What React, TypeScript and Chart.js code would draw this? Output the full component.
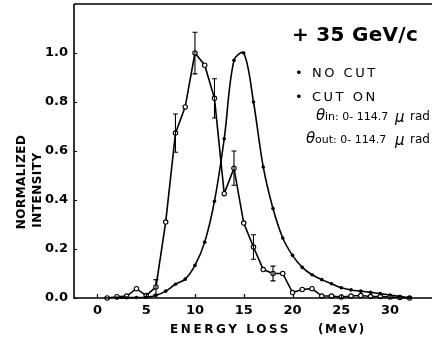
import React, { useEffect, useRef } from "react";
import { Chart, registerables } from "chart.js";

Chart.register(...registerables);

// ---- data ----
const cutOnEnergy = [1, 2, 3, 4, 5, 6, 7, 8, 9, 10, 11, 12, 13, 14, 15, 16, 17, 18, 19, 20, 21, 22, 23, 24, 25, 26, 27, 28, 29, 30, 31, 32];
const cutOnValues = [0.0, 0.005, 0.008, 0.038, 0.01, 0.045, 0.31, 0.673, 0.78, 1.0, 0.95, 0.815, 0.426, 0.53, 0.306, 0.208, 0.116, 0.1, 0.1, 0.022, 0.035, 0.038, 0.008, 0.008, 0.004, 0.008, 0.01, 0.006, 0.006, 0.004, 0.002, 0.0];

const noCutEnergy = [2, 3, 4, 5, 6, 7, 8, 9, 10, 11, 12, 13, 14, 15, 16, 17, 18, 19, 20, 21, 22, 23, 24, 25, 26, 27, 28, 29, 30, 31, 32];
const noCutValues = [0.0, 0.001, 0.002, 0.003, 0.01, 0.028, 0.056, 0.077, 0.133, 0.228, 0.395, 0.65, 0.97, 1.0, 0.8, 0.535, 0.365, 0.245, 0.174, 0.125, 0.095, 0.075, 0.058, 0.042, 0.033, 0.028, 0.023, 0.018, 0.012, 0.006, 0.002];

// error bars on the CUT ON series
const errEnergy = [6, 8, 10, 12, 14, 16, 18];
const errHalf = [0.03, 0.078, 0.085, 0.08, 0.07, 0.05, 0.03];

const xTickValues = [0, 5, 10, 15, 20, 25, 30];
const yTickValues = [0, 0.2, 0.4, 0.6, 0.8, 1.0];

const titleText = "+ 35 GeV/c";
const legendNoCut = "NO CUT";
const legendCutOn = "CUT ON";
const xTitle = "ENERGY LOSS";
const xUnit = "(MeV)";
const yTitle = ["NORMALIZED", "INTENSITY"];

const FONT = "'DejaVu Sans', sans-serif";

const decor = {
  id: "decor",
  afterDraw(chart: any) {
    const { ctx, chartArea, scales } = chart;
    const x = scales.x;
    const y = scales.y;
    ctx.save();
    ctx.strokeStyle = "#000";
    ctx.fillStyle = "#000";
    // axes + top border
    ctx.lineWidth = 1.6;
    ctx.beginPath();
    ctx.moveTo(chartArea.left, chartArea.top);
    ctx.lineTo(chartArea.left, chartArea.bottom);
    ctx.lineTo(chartArea.right, chartArea.bottom);
    ctx.moveTo(chartArea.left, chartArea.top);
    ctx.lineTo(chartArea.right, chartArea.top);
    ctx.stroke();
    // inward ticks
    ctx.lineWidth = 1.2;
    ctx.beginPath();
    xTickValues.forEach((v) => {
      const px = Math.round(x.getPixelForValue(v)) + 0.5;
      ctx.moveTo(px, chartArea.bottom);
      ctx.lineTo(px, chartArea.bottom - 4);
    });
    yTickValues.forEach((v) => {
      const py = Math.round(y.getPixelForValue(v)) + 0.5;
      ctx.moveTo(chartArea.left, py);
      ctx.lineTo(chartArea.left + 3, py);
    });
    ctx.stroke();
    // error bars
    ctx.lineWidth = 1.1;
    ctx.beginPath();
    errEnergy.forEach((e, i) => {
      const idx = cutOnEnergy.indexOf(e);
      const val = cutOnValues[idx];
      const px = x.getPixelForValue(e);
      const top = y.getPixelForValue(val + errHalf[i]);
      const bot = y.getPixelForValue(val - errHalf[i]);
      ctx.moveTo(px, top);
      ctx.lineTo(px, bot);
      ctx.moveTo(px - 2.5, top);
      ctx.lineTo(px + 2.5, top);
      ctx.moveTo(px - 2.5, bot);
      ctx.lineTo(px + 2.5, bot);
    });
    ctx.stroke();

    // title/legend texts
    ctx.textBaseline = "middle";
    ctx.textAlign = "left";
    ctx.font = `bold 20px ${FONT}`;
    (ctx as any).letterSpacing = "0.3px";
    ctx.fillText(titleText, 292, 36);
    ctx.font = `13px ${FONT}`;
    (ctx as any).letterSpacing = "2.5px";
    ctx.fillText("•", 295, 74);
    ctx.fillText(legendNoCut, 312, 74);
    ctx.fillText("•", 295, 98);
    ctx.fillText(legendCutOn, 312, 98);
    (ctx as any).letterSpacing = "0px";
    ctx.font = `italic 15px ${FONT}`;
    ctx.fillText("θ", 316, 116);
    ctx.font = `11px ${FONT}`;
    ctx.fillText("in: 0- 114.7", 325, 117);
    ctx.font = `italic 15px ${FONT}`;
    ctx.fillText("μ", 395, 118);
    ctx.font = `12px ${FONT}`;
    ctx.fillText("rad", 410, 117);

    ctx.font = `italic 15px ${FONT}`;
    ctx.fillText("θ", 306, 139);
    ctx.font = `11px ${FONT}`;
    ctx.fillText("out: 0- 114.7", 315, 140);
    ctx.font = `italic 15px ${FONT}`;
    ctx.fillText("μ", 395, 141);
    ctx.font = `12px ${FONT}`;
    ctx.fillText("rad", 410, 140);

    // x axis title
    ctx.font = `bold 12px ${FONT}`;
    (ctx as any).letterSpacing = "2.6px";
    ctx.fillText(xTitle, 170, 330);
    (ctx as any).letterSpacing = "1.5px";
    ctx.fillText(xUnit, 318, 330);

    // y axis title (rotated)
    (ctx as any).letterSpacing = "0.5px";
    ctx.save();
    ctx.translate(22, 182);
    ctx.rotate(-Math.PI / 2);
    ctx.textAlign = "center";
    ctx.fillText(yTitle[0], 0, 0);
    ctx.restore();
    ctx.save();
    ctx.translate(38, 190);
    ctx.rotate(-Math.PI / 2);
    ctx.textAlign = "center";
    ctx.fillText(yTitle[1], 0, 0);
    ctx.restore();

    ctx.restore();
  },
};

export default function App() {
  const ref = useRef<HTMLCanvasElement>(null);
  useEffect(() => {
    if (!ref.current) return;
    const chart = new Chart(ref.current, {
      type: "line",
      data: {
        datasets: [
          {
            label: "NO CUT",
            data: noCutEnergy.map((e, i) => ({ x: e, y: noCutValues[i] })),
            borderColor: "#000",
            backgroundColor: "#000",
            borderWidth: 1.6,
            pointRadius: 1.8,
            pointBorderWidth: 0,
            pointBackgroundColor: "#000",
            tension: 0.35,
            clip: false,
          },
          {
            label: "CUT ON",
            data: cutOnEnergy.map((e, i) => ({ x: e, y: cutOnValues[i] })),
            borderColor: "#000",
            backgroundColor: "#fff",
            borderWidth: 1.6,
            pointRadius: 2.2,
            pointBorderWidth: 1.1,
            pointBorderColor: "#000",
            pointBackgroundColor: "#fff",
            tension: 0,
            clip: false,
          },
        ],
      },
      options: {
        animation: false,
        responsive: false,
        maintainAspectRatio: false,
        layout: { autoPadding: false, padding: { top: 4, left: 0, right: 0, bottom: 0 } },
        plugins: { legend: { display: false }, tooltip: { enabled: false } },
        scales: {
          x: {
            type: "linear",
            min: -2.4,
            max: 34.3,
            grid: { display: false, drawTicks: false },
            border: { display: false },
            afterBuildTicks: (s: any) => {
              s.ticks = xTickValues.map((v) => ({ value: v }));
            },
            afterFit: (s: any) => {
              s.height = 43;
              s.paddingLeft = 0;
              s.paddingRight = 0;
            },
            ticks: {
              color: "#000",
              padding: 5,
              maxRotation: 0,
              font: { family: FONT, size: 13, weight: "bold" },
              callback: (v: any) => String(v),
            },
          },
          y: {
            type: "linear",
            min: 0,
            max: 1.2,
            grid: { display: false, drawTicks: false },
            border: { display: false },
            afterBuildTicks: (s: any) => {
              s.ticks = yTickValues.map((v) => ({ value: v }));
            },
            afterFit: (s: any) => {
              s.width = 74;
              s.paddingTop = 0;
              s.paddingBottom = 0;
            },
            ticks: {
              color: "#000",
              padding: 6,
              font: { family: FONT, size: 13, weight: "bold" },
              callback: (v: any) => Number(v).toFixed(1),
            },
          },
        },
      },
      plugins: [decor],
    });
    return () => chart.destroy();
  }, []);
  return (
    <div style={{ position: "fixed", left: 0, top: 0, width: 432, height: 341, background: "#fff" }}>
      <canvas ref={ref} width={432} height={341} />
    </div>
  );
}
